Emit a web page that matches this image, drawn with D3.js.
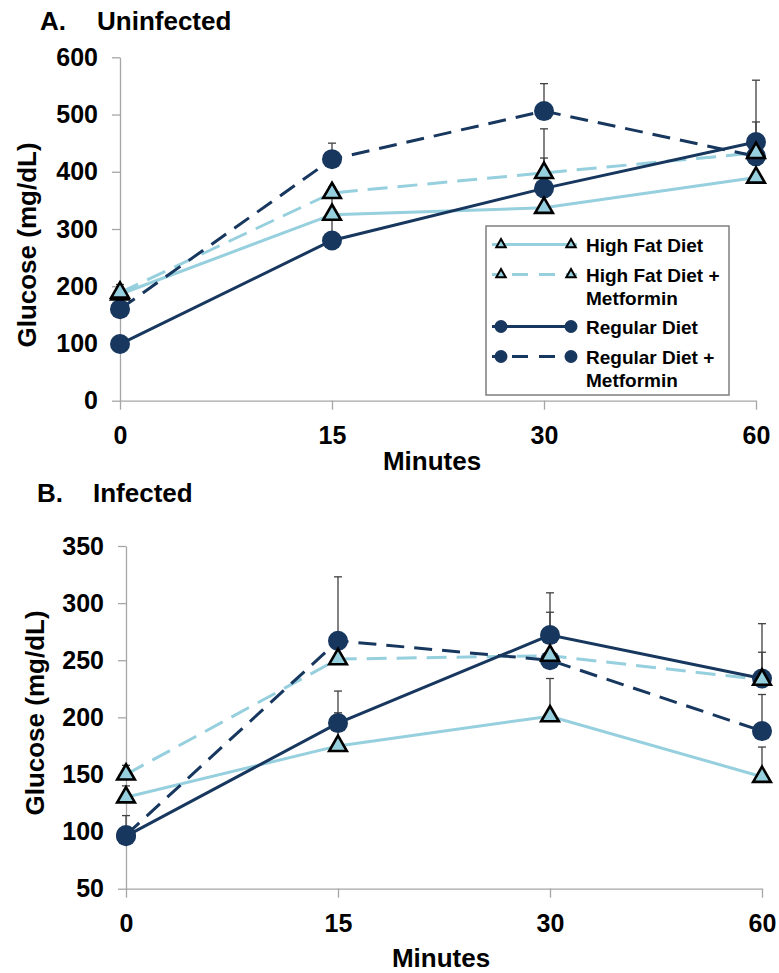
<!DOCTYPE html>
<html>
  <head>
    <meta charset="utf-8">
    <script src="https://cdn.jsdelivr.net/npm/d3@7"></script>
    <style>
      body { margin: 0; background: #fff; }
      text { font-family: Arial, "Liberation Sans", sans-serif; font-weight: bold; fill: #000; }
    </style>
  </head>
  <body>
    <div id="chart"></div>

    <script>
      // ========= Data ========= //
      const minutes = ['0', '15', '30', '60'];
      const seriesNames = ['High Fat Diet', 'High Fat Diet + Metformin', 'Regular Diet', 'Regular Diet + Metformin'];

      // Panel A - uninfected (mean glucose, mg/dL)
      const aHighFat = [186, 325, 337, 390];
      const aHighFatMet = [189, 363, 398, 433];
      const aRegular = [99, 280, 371, 452];
      const aRegularMet = [160, 422, 506, 427];
      // upper error bars
      const aHighFatErr = [8, 30, 0, 0];
      const aHighFatMetErr = [14, 10, 77, 10];
      const aRegularErr = [5, 40, 53, 108];
      const aRegularMetErr = [8, 28, 48, 60];
      const aTicks = [0, 100, 200, 300, 400, 500, 600];

      // Panel B - infected
      const bHighFat = [130, 175, 201, 148];
      const bHighFatMet = [150, 251, 254, 233];
      const bRegular = [96, 195, 272, 234];
      const bRegularMet = [97, 267, 250, 188];
      const bHighFatErr = [10, 29, 33, 26];
      const bHighFatMetErr = [8, 5, 38, 24];
      const bRegularErr = [18, 28, 37, 48];
      const bRegularMetErr = [5, 56, 5, 32];
      const bTicks = [50, 100, 150, 200, 250, 300, 350];

      // ========= Styles ========= //
      const navy = '#17375e';
      const light = '#96cfdd';
      const axisColor = '#a6a6a6';
      const styles = [
        { color: light, dash: null, marker: 'triangle' },
        { color: light, dash: '20,10', marker: 'triangle' },
        { color: navy, dash: null, marker: 'circle' },
        { color: navy, dash: '18,10', marker: 'circle' }
      ];

      const width = 779;
      const height = 973;

      const svg = d3.select('#chart').append('svg')
        .attr('width', width)
        .attr('height', height);

      function drawPanel(cfg) {
        const x = d3.scalePoint().domain(minutes).range(cfg.xRange);
        const y = d3.scaleLinear().domain(cfg.yDomain).range(cfg.yRange);
        const g = svg.append('g');

        // title
        g.append('text').attr('x', cfg.titleX).attr('y', cfg.titleY)
          .style('font-size', '26px').text(cfg.letter);
        g.append('text').attr('x', cfg.titleX2).attr('y', cfg.titleY)
          .style('font-size', '26px').text(cfg.title);

        // axes
        const yAxis = g.append('g')
          .attr('transform', `translate(${cfg.xRange[0]},0)`)
          .call(d3.axisLeft(y).tickValues(cfg.ticks).tickSize(8).tickSizeOuter(0).tickPadding(14));
        const xAxis = g.append('g')
          .attr('transform', `translate(0,${cfg.yRange[0]})`)
          .call(d3.axisBottom(x).tickSize(9).tickSizeOuter(0).tickPadding(17));
        [xAxis, yAxis].forEach(a => {
          a.select('.domain').attr('stroke', axisColor).attr('stroke-width', 1.3);
          a.selectAll('.tick line').attr('stroke', axisColor).attr('stroke-width', 1.3);
          a.selectAll('.tick text')
            .style('font-family', 'Arial, "Liberation Sans", sans-serif')
            .style('font-weight', 'bold')
            .style('font-size', '25px')
            .attr('fill', '#000');
        });

        // axis titles
        g.append('text')
          .attr('x', cfg.xTitleX).attr('y', cfg.xTitleY)
          .attr('text-anchor', 'middle')
          .style('font-size', '26px')
          .text('Minutes');
        g.append('text')
          .attr('transform', `translate(${cfg.yTitleX},${cfg.yTitleY}) rotate(-90)`)
          .attr('text-anchor', 'middle')
          .style('font-size', '26px')
          .text('Glucose (mg/dL)');

        const line = d3.line()
          .x((d, i) => x(minutes[i]))
          .y(d => y(d));

        // lines
        cfg.values.forEach((vals, s) => {
          g.append('path')
            .attr('d', line(vals))
            .attr('fill', 'none')
            .attr('stroke', styles[s].color)
            .attr('stroke-width', 3)
            .attr('stroke-dasharray', styles[s].dash);
        });

        // error bars (upper)
        cfg.values.forEach((vals, s) => {
          vals.forEach((v, i) => {
            const e = cfg.errors[s][i];
            if (!e) return;
            const cx = x(minutes[i]);
            g.append('line')
              .attr('x1', cx).attr('x2', cx)
              .attr('y1', y(v)).attr('y2', y(v + e))
              .attr('stroke', '#404040').attr('stroke-width', 1.3);
            g.append('line')
              .attr('x1', cx - 4).attr('x2', cx + 4)
              .attr('y1', y(v + e)).attr('y2', y(v + e))
              .attr('stroke', '#404040').attr('stroke-width', 1.3);
          });
        });

        // markers: circles then triangles
        [2, 3, 0, 1].forEach(s => {
          const vals = cfg.values[s];
          if (styles[s].marker === 'circle') {
            g.selectAll(null).data(vals).enter().append('circle')
              .attr('cx', (d, i) => x(minutes[i]))
              .attr('cy', d => y(d))
              .attr('r', 10)
              .attr('fill', navy);
          } else {
            g.selectAll(null).data(vals).enter().append('path')
              .attr('d', d3.symbol(d3.symbolTriangle, 135))
              .attr('transform', (d, i) => `translate(${x(minutes[i])},${y(d)})`)
              .attr('fill', light)
              .attr('stroke', '#000')
              .attr('stroke-width', 2.6);
          }
        });
      }

      drawPanel({
        letter: 'A.', title: 'Uninfected',
        titleX: 40, titleX2: 97, titleY: 30,
        xRange: [120, 756], yDomain: [0, 600], yRange: [400.7, 57.3],
        ticks: aTicks,
        xTitleX: 432, xTitleY: 470,
        yTitleX: 36, yTitleY: 245,
        values: [aHighFat, aHighFatMet, aRegular, aRegularMet],
        errors: [aHighFatErr, aHighFatMetErr, aRegularErr, aRegularMetErr]
      });

      drawPanel({
        letter: 'B.', title: 'Infected',
        titleX: 37, titleX2: 93, titleY: 502,
        xRange: [126, 762], yDomain: [50, 350], yRange: [888.7, 546],
        ticks: bTicks,
        xTitleX: 441, xTitleY: 967,
        yTitleX: 44, yTitleY: 713,
        values: [bHighFat, bHighFatMet, bRegular, bRegularMet],
        errors: [bHighFatErr, bHighFatMetErr, bRegularErr, bRegularMetErr]
      });

      // ========= Legend (panel A) ========= //
      const legend = svg.append('g');
      legend.append('rect')
        .attr('x', 486).attr('y', 226)
        .attr('width', 243).attr('height', 169)
        .attr('fill', '#fff')
        .attr('stroke', '#7f7f7f')
        .attr('stroke-width', 1.5);

      const legendRows = [251.5, 281.5, 333.5, 363.5]; // text baselines of first line
      seriesNames.forEach((name, s) => {
        const base = legendRows[s];
        const ly = base - 7;
        legend.append('line')
          .attr('x1', 492).attr('x2', 577)
          .attr('y1', ly).attr('y2', ly)
          .attr('stroke', styles[s].color)
          .attr('stroke-width', 3)
          .attr('stroke-dasharray', styles[s].dash ? '16,11' : null)
          .attr('stroke-dashoffset', styles[s].dash ? -20 : null);
        [501, 571].forEach(mx => {
          if (styles[s].marker === 'circle') {
            legend.append('circle').attr('cx', mx).attr('cy', ly).attr('r', 6.5).attr('fill', navy);
          } else {
            legend.append('path')
              .attr('d', d3.symbol(d3.symbolTriangle, 38))
              .attr('transform', `translate(${mx},${ly})`)
              .attr('fill', light)
              .attr('stroke', '#000')
              .attr('stroke-width', 2);
          }
        });
        const parts = name.split(' + ');
        const t = legend.append('text')
          .attr('x', 586).attr('y', base)
          .style('font-size', '19px');
        t.append('tspan').text(parts.length > 1 ? parts[0] + ' +' : parts[0]);
        if (parts.length > 1) {
          t.append('tspan').attr('x', 586).attr('dy', 23).text(parts[1]);
        }
      });
    </script>
  </body>
</html>
